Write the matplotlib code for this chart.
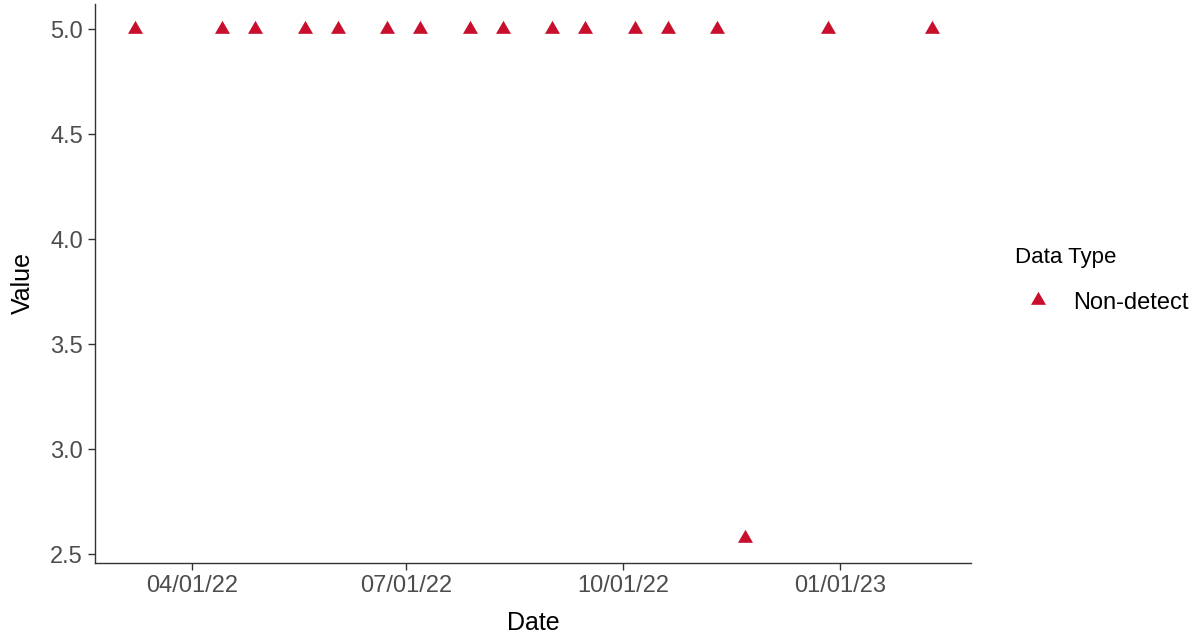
#!/usr/bin/env python

import matplotlib
matplotlib.use("Agg")
import matplotlib.pyplot as plt
import matplotlib.dates as mdates
import numpy as np
import pandas as pd

plt.rcParams["font.family"] = ["Liberation Sans", "DejaVu Sans"]

# Sample dates and values
dates = [
    "2022-03-08", "2022-04-14", "2022-04-28", "2022-05-19", "2022-06-02",
    "2022-06-23", "2022-07-07", "2022-07-28", "2022-08-11", "2022-09-01",
    "2022-09-15", "2022-10-06", "2022-10-20", "2022-11-10", "2022-11-22",
    "2022-12-27", "2023-02-09",
]
values = [5.0, 5.0, 5.0, 5.0, 5.0, 5.0, 5.0, 5.0, 5.0, 5.0,
          5.0, 5.0, 5.0, 5.0, 2.58, 5.0, 5.0]
data_type = "Non-detect"
y_ticks = [2.5, 3.0, 3.5, 4.0, 4.5, 5.0]

x = pd.to_datetime(dates)
y = np.array(values)

# equilateral triangle centred on its centroid (like R's pch 17)
tri = [(-1, -0.577), (1, -0.577), (0, 1.155), (-1, -0.577)]
red = "#C8102E"
axis_grey = "#333333"
tick_grey = "#4D4D4D"

fig = plt.figure(figsize=(11.99, 6.38), dpi=100)
fig.patch.set_facecolor("white")
ax = fig.add_axes([0.0795, 0.1176, 0.7307, 0.8768])

ax.plot(x, y, linestyle="none", marker=tri, markersize=12.5,
        color=red, markeredgewidth=0, label=data_type)

# ggplot-style 5% expansion
span = x.max() - x.min()
ax.set_xlim(x.min() - span * 0.05, x.max() + span * 0.05)
yr = y.max() - y.min()
ax.set_ylim(y.min() - yr * 0.05, y.max() + yr * 0.05)

ax.xaxis.set_major_locator(mdates.MonthLocator(bymonth=[1, 4, 7, 10]))
ax.xaxis.set_major_formatter(mdates.DateFormatter("%m/%d/%y"))
ax.set_yticks(y_ticks)
ax.set_yticklabels([f"{v:.1f}" for v in y_ticks])

for side in ["top", "right"]:
    ax.spines[side].set_visible(False)
for side in ["left", "bottom"]:
    ax.spines[side].set_color(axis_grey)
    ax.spines[side].set_linewidth(1.0)

ax.tick_params(axis="both", length=5, width=1.0, color=axis_grey,
               labelsize=17, labelcolor=tick_grey, pad=4)

ax.set_xlabel("Date", fontsize=18, color="black", labelpad=10)
ax.set_ylabel("Value", fontsize=18, color="black", labelpad=11)

leg = fig.legend(loc="upper left", bbox_to_anchor=(0.829, 0.646),
                 frameon=False, title="Data Type", fontsize=17,
                 title_fontsize=16, handletextpad=0.51, labelspacing=1.0,
                 handlelength=1.94)
leg._legend_box.align = "left"

plt.savefig("out.png", dpi=100)
